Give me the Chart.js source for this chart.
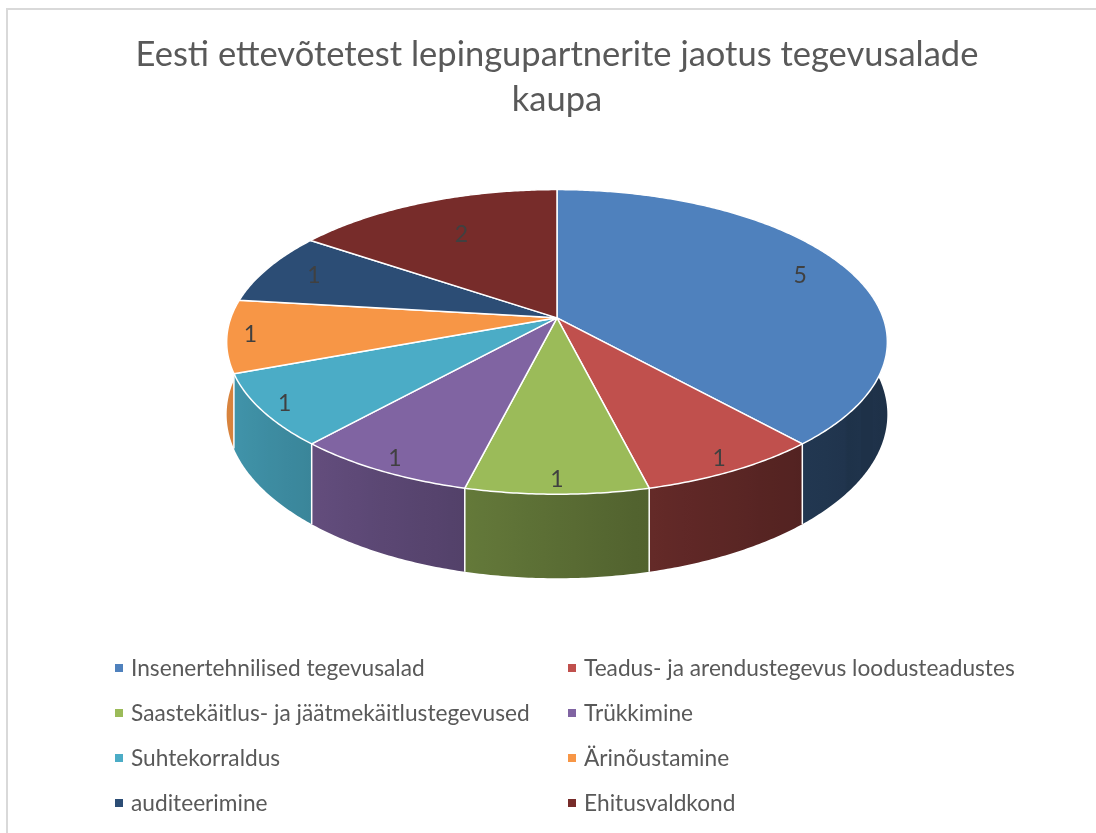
<!DOCTYPE html>
<html lang="et">
<head>
  <meta charset="UTF-8">
  <title>Eesti ettevõtetest lepingupartnerite jaotus tegevusalade kaupa</title>
  <style>
    html, body { margin: 0; padding: 0; background: #fff; overflow: hidden; }
    #wrap { position: relative; width: 1096px; height: 833px; }
    #frame {
      position: absolute; left: 6px; top: 8px; width: 1200px; height: 900px;
      border: 2px solid #d9d9d9; pointer-events: none;
    }
    #legend {
      position: absolute; left: 115px; top: 645px;
      display: grid; grid-template-columns: 453px 453px; grid-auto-rows: 45px;
      font-family: Lato, "Noto Sans", sans-serif; font-size: 22.7px; color: #595959;
    }
    #legend .item { display: flex; align-items: center; white-space: nowrap; }
    #legend .box { width: 8px; height: 8px; margin-right: 8px; flex: none; }
  </style>
</head>
<body>
<div id="wrap">
  <canvas id="chart" width="1096" height="833"></canvas>
  <div id="frame"></div>
  <div id="legend"></div>
</div>

<script src="https://cdn.jsdelivr.net/npm/chart.js@4.4.1/dist/chart.umd.min.js"></script>
<script>
  const labels = [
    'Insenertehnilised tegevusalad',
    'Teadus- ja arendustegevus loodusteadustes',
    'Saastekäitlus- ja jäätmekäitlustegevused',
    'Trükkimine',
    'Suhtekorraldus',
    'Ärinõustamine',
    'auditeerimine',
    'Ehitusvaldkond'
  ];
  const values = [5, 1, 1, 1, 1, 1, 1, 2];
  const colors = ['#4F81BD', '#C0504D', '#9BBB59', '#8064A2', '#4BACC6', '#F79646', '#2C4D75', '#772C2A'];

  // tilted pie look (Excel 3D pie), relative to the pie's own radius
  const view = { sx: 1.757, sy: 0.80, depth: 0.381, persp: 0.158 };

  function rgb(hex) {
    const n = parseInt(hex.slice(1), 16);
    return [(n >> 16) & 255, (n >> 8) & 255, n & 255];
  }
  function shade(hex, f) {
    const c = rgb(hex).map(v => Math.round(v * f));
    return 'rgb(' + c.join(',') + ')';
  }
  // darker to the right, lighter to the left
  const wallLight = t => 0.38 + 0.5 * Math.pow((1 - Math.cos(t)) / 2, 1.3);

  const pie3d = {
    id: 'pie3d',
    beforeDatasetsDraw(chart) {
      const ctx = chart.ctx;
      const arcs = chart.getDatasetMeta(0).data;
      const cx = arcs[0].x, cy = arcs[0].y, R = arcs[0].outerRadius;
      const A = R * view.sx, B = R * view.sy, H = R * view.depth, e = view.persp;

      const proj = (t, r, h) => {
        const s = Math.sin(t) * r, c = Math.cos(t) * r;
        const w = 1 - e * s;
        return [cx + A * c / w, cy + (B * s + h * H) / w];
      };

      ctx.save();

      // side walls, back to front, one polygon each with a horizontal gradient
      const walls = [];
      arcs.forEach((arc, i) => {
        const a0 = Math.max(arc.startAngle, -0.35);
        const a1 = Math.min(arc.endAngle, Math.PI + 0.35);
        if (a1 > a0) walls.push({ a0, a1, i });
      });
      walls.sort((p, q) => Math.sin((p.a0 + p.a1) / 2) - Math.sin((q.a0 + q.a1) / 2));
      walls.forEach(wl => {
        const n = Math.max(2, Math.ceil((wl.a1 - wl.a0) / 0.01));
        const top = [], bot = [];
        for (let k = 0; k <= n; k++) {
          const t = wl.a0 + (wl.a1 - wl.a0) * k / n;
          top.push(proj(t, 1, 0));
          bot.push(proj(t, 1, 1));
        }
        const xs = top.map(p => p[0]);
        const xmin = Math.min(...xs), xmax = Math.max(...xs);
        const g = ctx.createLinearGradient(xmin - 0.5, 0, xmax + 0.5, 0);
        for (let k = 0; k <= n; k += Math.max(1, Math.floor(n / 12))) {
          const t = wl.a0 + (wl.a1 - wl.a0) * k / n;
          const pos = xmax > xmin ? (top[k][0] - xmin) / (xmax - xmin) : 0;
          g.addColorStop(Math.min(1, Math.max(0, pos)), shade(colors[wl.i], wallLight(t)));
        }
        ctx.beginPath();
        ctx.moveTo(top[0][0], top[0][1]);
        top.forEach(p => ctx.lineTo(p[0], p[1]));
        for (let k = bot.length - 1; k >= 0; k--) ctx.lineTo(bot[k][0], bot[k][1]);
        ctx.closePath();
        ctx.fillStyle = g;
        ctx.fill();
      });

      // white seams on the visible part of the wall
      ctx.strokeStyle = '#ffffff';
      ctx.lineWidth = 1.5;
      arcs.forEach(arc => {
        const t = arc.endAngle;
        if (Math.sin(t) > e + 0.02) {
          const a = proj(t, 1, 0), b = proj(t, 1, 1);
          ctx.beginPath();
          ctx.moveTo(a[0], a[1]);
          ctx.lineTo(b[0], b[1]);
          ctx.stroke();
        }
      });

      // top face
      ctx.lineJoin = 'round';
      arcs.forEach((arc, i) => {
        const a0 = arc.startAngle, a1 = arc.endAngle;
        const n = Math.max(2, Math.ceil((a1 - a0) / 0.01));
        const c0 = proj(0, 0, 0);
        ctx.beginPath();
        ctx.moveTo(c0[0], c0[1]);
        for (let k = 0; k <= n; k++) {
          const p = proj(a0 + (a1 - a0) * k / n, 1, 0);
          ctx.lineTo(p[0], p[1]);
        }
        ctx.closePath();
        ctx.fillStyle = colors[i];
        ctx.fill();
        ctx.strokeStyle = '#ffffff';
        ctx.lineWidth = 1.5;
        ctx.stroke();
      });

      // value labels
      ctx.fillStyle = '#404040';
      ctx.font = '23px Lato, "Noto Sans", sans-serif';
      ctx.textAlign = 'center';
      ctx.textBaseline = 'middle';
      arcs.forEach((arc, i) => {
        const tm = (arc.startAngle + arc.endAngle) / 2;
        const r = 0.93 - 0.27 * Math.max(0, -Math.sin(tm));
        const p = proj(tm, r, 0);
        ctx.fillText(String(values[i]), p[0], p[1]);
      });

      ctx.restore();
      return false;
    }
  };

  new Chart(document.getElementById('chart'), {
    type: 'pie',
    data: {
      labels,
      datasets: [{
        data: values,
        backgroundColor: colors,
        borderWidth: 0,
        hoverOffset: 0
      }]
    },
    options: {
      responsive: false,
      animation: false,
      events: [],
      layout: { padding: { left: 18, right: 0, top: 32.5, bottom: 329.5 } },
      plugins: {
        legend: { display: false },
        tooltip: { enabled: false },
        title: {
          display: true,
          text: ['Eesti ettevõtetest lepingupartnerite jaotus tegevusalade', 'kaupa'],
          color: '#595959',
          font: { family: 'Lato, "Noto Sans", sans-serif', size: 34.5, weight: 'normal', lineHeight: 1.3 },
          padding: { top: 0, bottom: 10 }
        }
      }
    },
    plugins: [pie3d]
  });

  const legend = document.getElementById('legend');
  labels.forEach((name, i) => {
    const item = document.createElement('div');
    item.className = 'item';
    const box = document.createElement('span');
    box.className = 'box';
    box.style.background = colors[i];
    item.appendChild(box);
    item.appendChild(document.createTextNode(name));
    legend.appendChild(item);
  });
</script>
</body>
</html>
